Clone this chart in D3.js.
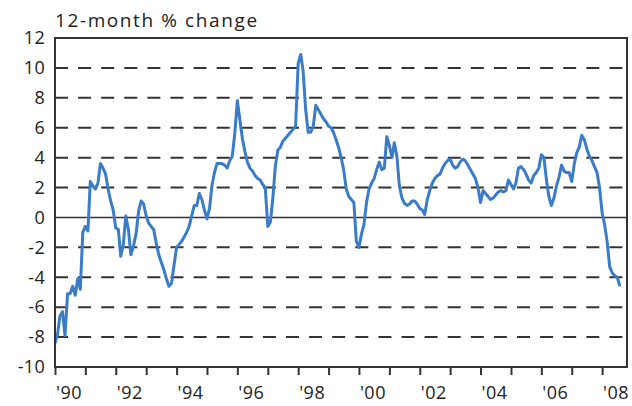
<!DOCTYPE html>
<html>
<head>
<meta charset="utf-8">
<script src="https://cdn.jsdelivr.net/npm/d3@7"></script>
<style>
  html, body { margin: 0; padding: 0; background: #fff; }
  svg text { font-family: "Open Sans", "DejaVu Sans", sans-serif; fill: #222; }
</style>
</head>
<body>
<svg id="chart" width="632" height="406"></svg>
<script>
// ---- data (monthly, starting January 1990) ----
const startYear = 1990;
const values = [
  // 1990
  -8.4, -7.8, -6.6, -6.3, -7.9, -5.1, -5.1, -4.6, -5.2, -4.1, -4.8, -1.0,
  // 1991
  -0.6, -0.9, 2.4, 2.1, 1.9, 2.3, 3.6, 3.3, 2.9, 1.9, 1.1, 0.5,
  // 1992
  -0.7, -0.8, -2.6, -1.8, 0.1, -0.8, -2.5, -1.9, -1.1, 0.4, 1.1, 0.9,
  // 1993
  0.1, -0.4, -0.6, -0.8, -1.7, -2.5, -3.0, -3.5, -4.1, -4.6, -4.4, -3.2,
  // 1994
  -2.0, -1.8, -1.6, -1.3, -1.0, -0.6, 0.1, 0.8, 0.8, 1.6, 1.2, 0.5,
  // 1995
  -0.1, 0.6, 2.1, 3.0, 3.6, 3.6, 3.6, 3.5, 3.3, 3.8, 4.1, 5.6,
  // 1996
  7.8, 6.5, 5.3, 4.4, 3.7, 3.3, 3.1, 2.8, 2.6, 2.5, 2.2, 2.0,
  // 1997
  -0.6, -0.3, 1.2, 3.4, 4.5, 4.7, 5.1, 5.3, 5.5, 5.7, 5.9, 6.1,
  // 1998
  10.3, 10.9, 9.8, 7.2, 5.7, 5.7, 6.1, 7.5, 7.2, 6.9, 6.6, 6.4,
  // 1999
  6.1, 6.0, 5.7, 5.2, 4.7, 4.0, 3.2, 1.9, 1.4, 1.2, 1.0, -1.6,
  // 2000
  -2.0, -1.1, -0.5, 1.0, 1.9, 2.3, 2.6, 3.2, 3.7, 3.2, 3.3, 5.4,
  // 2001
  4.8, 4.0, 5.0, 4.1, 2.1, 1.3, 0.95, 0.8, 0.9, 1.1, 1.1, 0.9,
  // 2002
  0.6, 0.5, 0.2, 1.2, 1.8, 2.3, 2.6, 2.8, 2.9, 3.3, 3.6, 3.8,
  // 2003
  3.9, 3.5, 3.3, 3.4, 3.7, 3.9, 3.8, 3.5, 3.2, 2.9, 2.6, 2.0,
  // 2004
  1.0, 1.8, 1.6, 1.4, 1.2, 1.3, 1.5, 1.7, 1.8, 1.7, 1.8, 2.5,
  // 2005
  2.2, 1.9, 2.3, 3.3, 3.4, 3.2, 2.9, 2.5, 2.3, 2.8, 3.0, 3.3,
  // 2006
  4.2, 4.0, 2.6, 1.4, 0.8, 1.3, 2.1, 2.7, 3.5, 3.1, 3.0, 3.0,
  // 2007
  2.4, 3.6, 4.3, 4.7, 5.5, 5.2, 4.6, 4.1, 3.8, 3.4, 3.0, 2.0,
  // 2008
  0.3, -0.5, -1.6, -3.3, -3.7, -3.9, -4.0, -4.6
];
const yTicks = [-10, -8, -6, -4, -2, 0, 2, 4, 6, 8, 10, 12];
const yearTicks = d3.range(1990, 2009);
const yearLabels = ["'90", "'92", "'94", "'96", "'98", "'00", "'02", "'04", "'06", "'08"];
const titleText = "12-month % change";

// ---- layout ----
const svg = d3.select("#chart");
const mLeft = 55, mRight = 627, mTop = 38, mBottom = 367;

const x = d3.scaleTime()
  .domain([new Date(1990, 0, 1), new Date(2008, 9, 26)])
  .range([mLeft, mRight]);
const y = d3.scaleLinear().domain([-10, 12]).range([mBottom, mTop]);

const data = values.map((v, i) => ({ date: new Date(startYear, i, 1), value: v }));

// grid lines
svg.append("g").selectAll("line")
  .data(yTicks.filter(t => t > -10 && t < 12))
  .join("line")
  .attr("x1", mLeft).attr("x2", mRight)
  .attr("y1", d => y(d)).attr("y2", d => y(d))
  .attr("stroke", "#333")
  .attr("stroke-width", d => d === 0 ? 1.6 : 2)
  .attr("stroke-dasharray", d => d === 0 ? null : "13,10.1");

// line
const line = d3.line()
  .x(d => x(d.date))
  .y(d => y(d.value))
  .curve(d3.curveLinear);

svg.append("path")
  .datum(data)
  .attr("fill", "none")
  .attr("stroke", "#3b7cc9")
  .attr("stroke-width", 3)
  .attr("stroke-linejoin", "round")
  .attr("d", line);

// frame
svg.append("rect")
  .attr("x", mLeft).attr("y", mTop)
  .attr("width", mRight - mLeft).attr("height", mBottom - mTop)
  .attr("fill", "none")
  .attr("stroke", "#333")
  .attr("stroke-width", 2);

// y labels
svg.append("g").selectAll("text")
  .data(yTicks)
  .join("text")
  .attr("x", mLeft - 10)
  .attr("y", d => y(d))
  .attr("dy", "0.35em")
  .attr("text-anchor", "end")
  .attr("font-size", 18)
  .attr("letter-spacing", 0.3)
  .text(d => d);

// x ticks
const xAxis = d3.axisBottom(x)
  .tickValues(yearTicks.map(yr => new Date(yr, 0, 1)))
  .tickSize(8)
  .tickFormat("");
const gx = svg.append("g")
  .attr("transform", `translate(0,${mBottom})`)
  .call(xAxis);
gx.select(".domain").remove();
gx.selectAll(".tick line").attr("stroke", "#333").attr("stroke-width", 2);

// x labels
svg.append("g").selectAll("text")
  .data(yearLabels)
  .join("text")
  .attr("x", (d, i) => x(new Date(1990 + 2 * i, 0, 1)) + 1)
  .attr("y", 399)
  .attr("text-anchor", "start")
  .attr("font-size", 18)
  .attr("letter-spacing", 0.5)
  .text(d => d);

// title
svg.append("text")
  .attr("x", 55)
  .attr("y", 27)
  .attr("font-size", 19)
  .attr("letter-spacing", 1.6)
  .text(titleText);
</script>
</body>
</html>
